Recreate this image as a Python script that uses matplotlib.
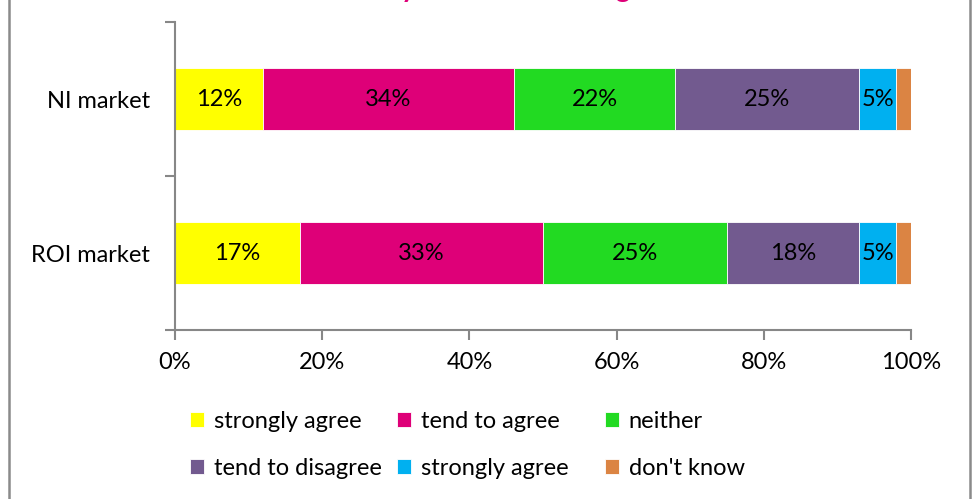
import matplotlib.pyplot as plt
from matplotlib.patches import Rectangle
from matplotlib.ticker import FixedLocator

plt.rcParams['font.family'] = ['Lato', 'DejaVu Sans']

markets = ['NI market', 'ROI market']
labels = ['strongly agree', 'tend to agree', 'neither',
          'tend to disagree', 'strongly agree', "don't know"]
colors = ['#FFFF00', '#DE0078', '#22DA22', '#725A8F', '#00B0F0', '#DB8443']
# percent per response, one list per market
ni_values = [12, 34, 22, 25, 5, 2]
roi_values = [17, 33, 25, 18, 5, 2]
values = [ni_values, roi_values]
xticks = [0, 20, 40, 60, 80, 100]

fs = 17
W, H = 976, 499
fig = plt.figure(figsize=(W / 100, H / 100), dpi=100)
ax = fig.add_axes([175 / W, 1 - 330 / H, 736 / W, 308 / H])

ypos = [1, 0]  # NI on top
grey = '#878787'

bars = []
for i in range(len(labels)):
    lefts = [sum(v[:i]) for v in values]
    widths = [v[i] for v in values]
    b = ax.barh(ypos, widths, left=lefts, height=0.4, color=colors[i],
                edgecolor='white', linewidth=0.6, label=labels[i])
    bars.append(b)
    for y, l, w in zip(ypos, lefts, widths):
        if w >= 5:
            ax.text(l + w / 2, y, f'{w}%', ha='center', va='center',
                    fontsize=fs, color='black')

ax.set_xlim(0, 100)
ax.set_ylim(-0.5, 1.5)
ax.set_xticks(xticks)
ax.set_xticklabels([f'{t}%' for t in xticks], fontsize=fs)
ax.set_yticks(ypos)
ax.set_yticklabels(markets, fontsize=fs)
ax.yaxis.set_minor_locator(FixedLocator([-0.5, 0.5, 1.5]))
ax.tick_params(axis='y', which='major', length=0, pad=18)
ax.tick_params(axis='y', which='minor', length=7, width=1.5, color=grey)
ax.tick_params(axis='x', length=7, width=1.5, color=grey, pad=9)

for s in ['top', 'right']:
    ax.spines[s].set_visible(False)
for s in ['left', 'bottom']:
    ax.spines[s].set_color(grey)
    ax.spines[s].set_linewidth(1.5)

# legend: three columns, filled row by row like the original
col_x = [190, 397, 605]
for c, x in enumerate(col_x):
    idx = [c, c + 3]
    lg = fig.legend([bars[k] for k in idx], [labels[k] for k in idx],
                    loc='upper left', bbox_to_anchor=(x / W, 1 - 411 / H),
                    frameon=False, fontsize=fs, handlelength=0.6,
                    handleheight=0.6, handletextpad=0.4, labelspacing=1.1,
                    borderpad=0, borderaxespad=0)

# title mostly cut off at top of the image
fig.text(406 / W, 1.006, 'Satisfaction with the way the market is regulated',
         ha='center', va='baseline', fontsize=20, fontweight='bold',
         color='#DE0078')

# outer chart border
fig.add_artist(Rectangle((9 / W, -0.05), 961 / W, 1.1, fill=False,
                         edgecolor='#8A8A8A', linewidth=1.8,
                         transform=fig.transFigure))

fig.savefig('out.png', dpi=100)
